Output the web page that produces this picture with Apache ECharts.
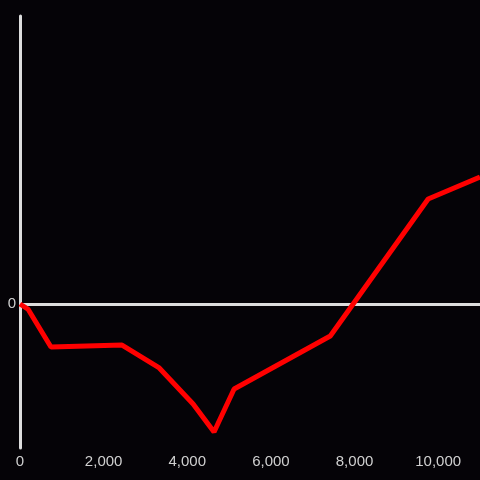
<!DOCTYPE html>
<html>
<head>
<meta charset="utf-8">
<script src="https://cdn.jsdelivr.net/npm/echarts@6/dist/echarts.min.js"></script>
<style>
  html, body { margin: 0; padding: 0; background: #050307; }
  #chart { width: 480px; height: 480px; }
</style>
</head>
<body>
<div id="chart"></div>
<script>
// x positions and values
const xValues = [0, 190, 740, 2440, 3330, 4140, 4640, 5120, 7420, 9760, 11000];
const yValues = [0, -3.5, -29.9, -28.5, -44.4, -69.4, -88.9, -59, -22.2, 72.9, 88.2];
const xTicks = [0, 2000, 4000, 6000, 8000, 10000];

const chart = echarts.init(document.getElementById("chart"), null, { renderer: "canvas" });

const axisColor = "#dddddd";
const labelColor = "#d0d0d0";

chart.setOption({
  backgroundColor: "#050307",
  animation: false,
  grid: { left: 20, right: 0, top: 16, bottom: 32, containLabel: false },
  xAxis: {
    type: "value",
    min: 0,
    max: 11000,
    interval: 2000,
    axisLine: { show: false },
    axisTick: { show: false },
    splitLine: { show: false },
    axisLabel: {
      color: labelColor,
      fontSize: 15,
      fontFamily: "Liberation Sans",
      margin: 6,
      showMaxLabel: false,
      formatter: (v) => (xTicks.includes(v) ? v.toLocaleString("en-US") : ""),
    },
  },
  yAxis: {
    type: "value",
    min: -100,
    max: 200,
    interval: 100,
    axisLine: { show: true, lineStyle: { color: axisColor, width: 3 } },
    axisTick: { show: false },
    splitLine: { show: false },
    axisLabel: {
      color: labelColor,
      fontSize: 15,
      fontFamily: "Liberation Sans",
      margin: 4,
      padding: [5, 0, 0, 0],
      formatter: (v) => (v === 0 ? "0" : ""),
    },
  },
  series: [
    {
      type: "line",
      data: xValues.map((x, i) => [x, yValues[i]]),
      symbol: "none",
      lineStyle: { color: "#ff0000", width: 5 },
      markLine: {
        silent: true,
        symbol: "none",
        label: { show: false },
        lineStyle: { color: axisColor, width: 3, type: "solid" },
        data: [{ yAxis: 0 }],
        z: 1,
      },
      z: 3,
    },
  ],
});
</script>
</body>
</html>
